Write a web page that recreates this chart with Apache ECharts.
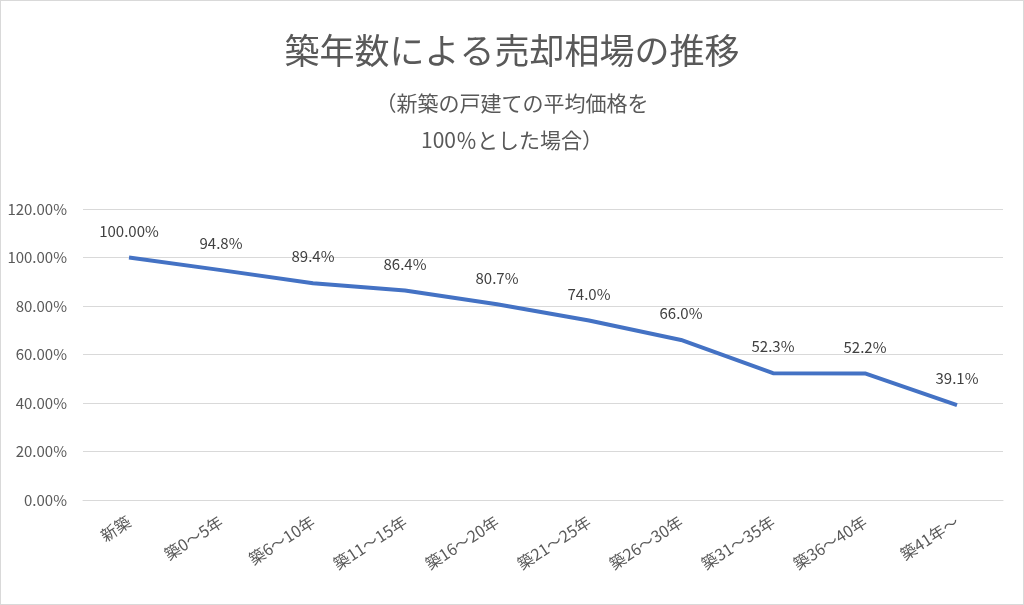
<!DOCTYPE html>
<html>
<head>
<meta charset="utf-8">
<script src="https://cdn.jsdelivr.net/npm/echarts@6/dist/echarts.min.js"></script>
<style>
  html, body { margin: 0; padding: 0; background: #fff; }
  #main { width: 1022px; height: 603px; border: 1px solid #d9d9d9; }
</style>
</head>
<body>
<div id="main"></div>
<script>
var categories = ['新築', '築0〜5年', '築6〜10年', '築11〜15年', '築16〜20年', '築21〜25年', '築26〜30年', '築31〜35年', '築36〜40年', '築41年〜'];
var values = [100, 94.8, 89.4, 86.4, 80.7, 74.0, 66.0, 52.3, 52.2, 39.1];
var valueLabels = ['100.00%', '94.8%', '89.4%', '86.4%', '80.7%', '74.0%', '66.0%', '52.3%', '52.2%', '39.1%'];

var font = '"Noto Sans CJK JP", "Noto Sans", sans-serif';
var grey = '#595959';

var myChart = echarts.init(document.getElementById('main'), null, { renderer: 'canvas' });

var option = {
  animation: false,
  textStyle: { fontFamily: font },
  title: [
    {
      text: '築年数による売却相場の推移',
      left: 'center',
      top: 27,
      textStyle: { fontSize: 35, fontWeight: 'normal', color: grey, fontFamily: font }
    },
    {
      text: '（新築の戸建ての平均価格を\n100％とした場合）',
      left: 'center',
      top: 79,
      textStyle: { fontSize: 21, fontWeight: 'normal', color: grey, lineHeight: 37, fontFamily: font }
    }
  ],
  grid: { left: 82, right: 20, top: 208, bottom: 104 },
  xAxis: {
    type: 'category',
    data: categories,
    boundaryGap: true,
    axisLine: { show: true, lineStyle: { color: '#d9d9d9' } },
    axisTick: { show: false },
    axisLabel: { rotate: 33, color: grey, fontSize: 16, margin: 20, fontFamily: font }
  },
  yAxis: {
    type: 'value',
    min: 0,
    max: 120,
    interval: 20,
    axisLine: { show: false },
    axisTick: { show: false },
    axisLabel: {
      color: grey, fontSize: 15, margin: 16, fontFamily: font,
      formatter: function (v) { return v.toFixed(2) + '%'; }
    },
    splitLine: { lineStyle: { color: '#d9d9d9', width: 1 } }
  },
  series: [
    {
      type: 'line',
      data: values,
      symbol: 'circle',
      symbolSize: 2,
      showSymbol: true,
      itemStyle: { color: 'rgba(68,114,196,0)', borderWidth: 0 },
      lineStyle: { color: '#4472C4', width: 4 },
      label: {
        show: true,
        position: 'top',
        distance: 18,
        color: '#404040',
        fontSize: 15,
        fontFamily: font,
        formatter: function (p) { return valueLabels[p.dataIndex]; }
      }
    }
  ]
};

myChart.setOption(option);
window.addEventListener('resize', myChart.resize);
</script>
</body>
</html>
